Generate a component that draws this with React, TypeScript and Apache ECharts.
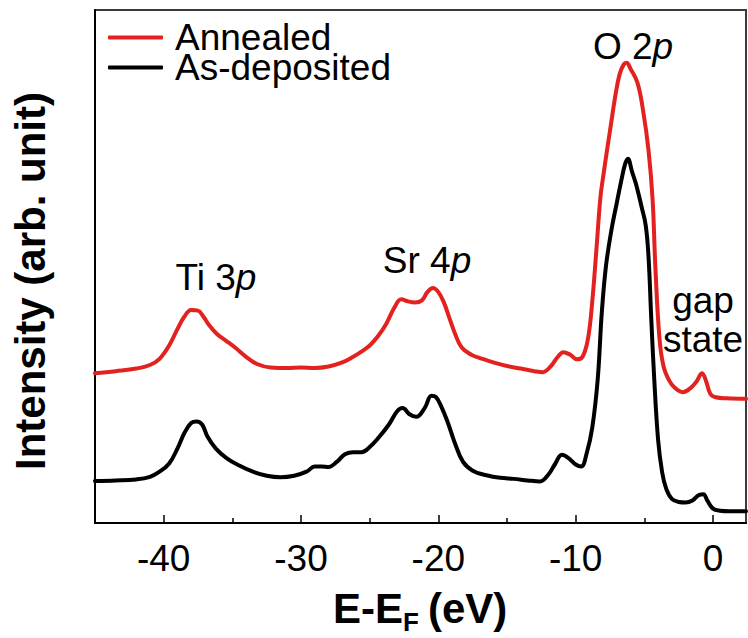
import React, { useEffect, useRef } from "react";
import * as echarts from "echarts";

const FONT = '"Liberation Sans", Arial, Helvetica, sans-serif';

// Binding energy relative to the Fermi level (eV)
const asDepositedEnergy = [
  -45.0, -43.5, -42.0, -41.0, -40.3, -39.6, -39.0, -38.5, -38.0, -37.6, -37.2, -36.8, -36.2, -35.4,
  -34.5, -33.5, -32.5, -31.5, -30.5, -29.6, -29.0, -28.5, -28.0, -27.4, -26.8, -26.2, -25.6, -25.0,
  -24.3, -23.6, -23.0, -22.6, -22.1, -21.6, -21.0, -20.5, -20.2, -19.8, -19.3, -18.8, -18.2, -17.5,
  -16.5, -15.5, -14.5, -13.5, -12.6, -12.0, -11.5, -11.0, -10.5, -10.0, -9.6, -9.2, -8.8, -8.4,
  -8.1, -7.8, -7.4, -7.0, -6.7, -6.4, -6.2, -5.9, -5.6, -5.2, -4.9, -4.7, -4.5, -4.3, -4.0, -3.7,
  -3.4, -3.0, -2.5, -2.0, -1.5, -1.0, -0.7, -0.4, 0.0, 0.5, 1.2, 2.4,
];
const asDepositedIntensity = [
  8.2, 8.3, 8.5, 9.0, 10.0, 11.6, 14.5, 17.5, 19.5, 19.8, 19.2, 16.8, 14.5, 12.6,
  11.2, 10.0, 9.2, 8.9, 9.2, 10.0, 11.0, 11.0, 10.9, 11.9, 13.4, 13.8, 13.8, 14.8,
  16.8, 19.2, 21.8, 22.4, 21.2, 20.7, 22.4, 24.8, 24.6, 22.8, 19.5, 15.6, 11.9, 10.2,
  9.3, 8.8, 8.6, 8.3, 8.1, 9.4, 11.5, 13.3, 12.6, 11.4, 11.0, 13.6, 18.5, 27.9,
  41.0, 50.0, 57.1, 62.5, 66.5, 70.0, 71.0, 68.5, 66.0, 61.6, 58.0, 52.0, 40.0, 29.0, 16.2, 9.8,
  6.6, 4.7, 4.1, 4.0, 4.4, 5.5, 5.6, 4.3, 2.8, 2.4, 2.3, 2.3,
];

const annealedEnergy = [
  -45.0, -43.5, -42.0, -41.0, -40.3, -39.6, -39.0, -38.5, -38.0, -37.5, -37.1, -36.7, -36.1, -35.5,
  -34.8, -34.0, -33.2, -32.2, -31.0, -30.0, -29.0, -28.0, -27.0, -26.2, -25.6, -25.0, -24.4, -23.8,
  -23.2, -22.7, -22.2, -21.7, -21.2, -20.8, -20.4, -20.0, -19.6, -19.2, -18.8, -18.3, -17.6, -16.8,
  -16.0, -15.0, -14.0, -13.0, -12.4, -11.8, -11.3, -10.9, -10.4, -9.9, -9.5, -9.1, -8.8, -8.5,
  -8.2, -8.0, -7.7, -7.5, -7.1, -6.8, -6.5, -6.3, -6.0, -5.5, -5.1, -4.7, -4.4, -4.2, -3.9, -3.6,
  -3.2, -2.8, -2.2, -1.6, -1.2, -0.8, -0.5, -0.2, 0.2, 1.0, 2.4,
];
const annealedIntensity = [
  29.2, 29.6, 30.1, 30.8, 32.0, 34.6, 37.8, 40.2, 41.5, 41.4, 40.2, 38.6, 36.8, 35.6,
  34.2, 32.4, 31.0, 30.3, 30.2, 30.3, 30.2, 30.5, 31.3, 32.4, 33.4, 34.6, 36.4, 38.8,
  42.0, 43.6, 43.2, 43.0, 43.4, 45.0, 45.8, 45.0, 43.0, 40.0, 37.0, 34.2, 32.8, 32.0,
  31.3, 30.6, 30.1, 29.6, 29.4, 30.6, 32.4, 33.3, 32.8, 31.9, 32.4, 36.0, 43.0, 53.0,
  63.5, 67.5, 73.0, 76.5, 83.5, 87.5, 89.4, 89.7, 88.5, 85.8, 80.5, 72.7, 63.0, 50.0, 36.0, 30.5,
  27.8, 26.4, 25.5, 26.4, 27.6, 29.2, 27.6, 25.2, 24.5, 24.3, 24.2,
];

const majorTicks = [-40, -30, -20, -10, 0];
const minorTicks = [-35, -25, -15, -5];

const zip = (xs: number[], ys: number[]) => xs.map((x, i) => [x, ys[i]]);

const GRID = { left: 95, right: 2, top: 10, bottom: 115 };
const X_MIN = -45;
const X_MAX = 2.4;

export default function App() {
  const ref = useRef<HTMLDivElement>(null);

  useEffect(() => {
    document.body.style.margin = "0";
    if (!ref.current) return;
    const chart = echarts.init(ref.current, null, { renderer: "svg" });

    const normal = (size: number) => ({ fontFamily: FONT, fontSize: size, fill: "#000" });
    const bold = (size: number) => ({ fontFamily: FONT, fontSize: size, fontWeight: "bold", fill: "#000" });

    chart.setOption({
      animation: false,
      backgroundColor: "#fff",
      grid: [
        { ...GRID, show: true, borderColor: "#3a3a3a", borderWidth: 2, backgroundColor: "transparent" },
        { ...GRID, show: false },
      ],
      legend: {
        left: 103,
        top: 14,
        orient: "vertical",
        icon: "roundRect",
        itemWidth: 55,
        itemHeight: 4,
        itemGap: -7,
        data: ["Annealed", "As-deposited"],
        textStyle: {
          fontFamily: FONT,
          fontSize: 37,
          color: "#000",
          padding: [0, 0, 0, 7],
        },
      },
      xAxis: [
        {
          type: "value",
          gridIndex: 0,
          min: X_MIN,
          max: X_MAX,
          position: "bottom",
          axisLine: { show: true, onZero: false, lineStyle: { color: "#000", width: 2 } },
          axisTick: {
            show: true,
            inside: true,
            length: 8,
            customValues: majorTicks,
            lineStyle: { color: "#000", width: 1.5 },
          },
          axisLabel: {
            show: true,
            customValues: majorTicks,
            margin: 17,
            fontFamily: FONT,
            fontSize: 37,
            color: "#000",
          },
          splitLine: { show: false },
        },
        {
          type: "value",
          gridIndex: 1,
          min: X_MIN,
          max: X_MAX,
          position: "bottom",
          axisLine: { show: false },
          axisTick: {
            show: true,
            inside: true,
            length: 5,
            customValues: minorTicks,
            lineStyle: { color: "#000", width: 1.5 },
          },
          axisLabel: { show: false },
          splitLine: { show: false },
        },
      ],
      yAxis: [
        {
          type: "value",
          gridIndex: 0,
          min: 0,
          max: 100,
          position: "left",
          axisLine: { show: true, onZero: false, lineStyle: { color: "#000", width: 2 } },
          axisTick: { show: false },
          axisLabel: { show: false },
          splitLine: { show: false },
        },
        {
          type: "value",
          gridIndex: 1,
          min: 0,
          max: 100,
          show: false,
        },
      ],
      series: [
        {
          name: "Annealed",
          type: "line",
          xAxisIndex: 0,
          yAxisIndex: 0,
          data: zip(annealedEnergy, annealedIntensity),
          showSymbol: false,
          smooth: 0.4,
          itemStyle: { color: "#e3211f" },
          lineStyle: { color: "#e3211f", width: 4, cap: "round", join: "round" },
        },
        {
          name: "As-deposited",
          type: "line",
          xAxisIndex: 0,
          yAxisIndex: 0,
          data: zip(asDepositedEnergy, asDepositedIntensity),
          showSymbol: false,
          smooth: 0.4,
          itemStyle: { color: "#000" },
          lineStyle: { color: "#000", width: 4, cap: "round", join: "round" },
        },
      ],
      graphic: [
        // peak labels
        {
          type: "text",
          x: 216,
          y: 277,
          style: {
            ...normal(37),
            text: "Ti 3{it|p}",
            align: "center",
            verticalAlign: "middle",
            rich: { it: { ...normal(37), fontStyle: "italic" } },
          },
        },
        {
          type: "text",
          x: 427,
          y: 260,
          style: {
            ...normal(37),
            text: "Sr 4{it|p}",
            align: "center",
            verticalAlign: "middle",
            rich: { it: { ...normal(37), fontStyle: "italic" } },
          },
        },
        {
          type: "text",
          x: 633,
          y: 46,
          style: {
            ...normal(37),
            text: "O 2{it|p}",
            align: "center",
            verticalAlign: "middle",
            rich: { it: { ...normal(37), fontStyle: "italic" } },
          },
        },
        {
          type: "text",
          x: 703,
          y: 300,
          style: { ...normal(37), text: "gap", align: "center", verticalAlign: "middle" },
        },
        {
          type: "text",
          x: 703,
          y: 339,
          style: { ...normal(37), text: "state", align: "center", verticalAlign: "middle" },
        },
        // y axis title
        {
          type: "text",
          x: 30,
          y: 281,
          rotation: Math.PI / 2,
          style: {
            ...bold(42),
            text: "Intensity (arb. unit)",
            align: "center",
            verticalAlign: "middle",
          },
        },
        // x axis title: E-E_F (eV)
        {
          type: "text",
          x: 333,
          y: 608,
          style: { ...bold(42), text: "E-E", align: "left", verticalAlign: "middle" },
        },
        {
          type: "text",
          x: 403,
          y: 622,
          style: { ...bold(26), text: "F", align: "left", verticalAlign: "middle" },
        },
        {
          type: "text",
          x: 428,
          y: 608,
          style: { ...bold(42), text: "(eV)", align: "left", verticalAlign: "middle" },
        },
      ],
    });

    return () => chart.dispose();
  }, []);

  return <div ref={ref} style={{ width: 748, height: 638 }} />;
}
